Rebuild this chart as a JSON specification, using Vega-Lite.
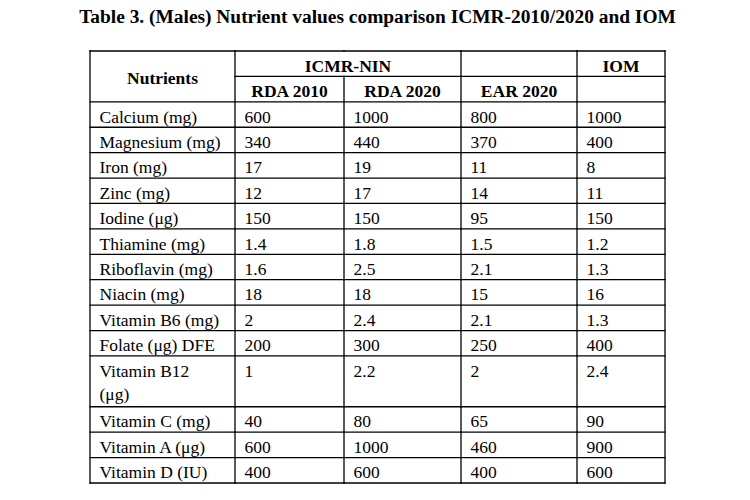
{
  "$schema": "https://vega.github.io/schema/vega-lite/v6.json",
  "padding": {"left": 79, "top": 6, "right": 0, "bottom": 0},
  "bounds": "flush",
  "spacing": 0,
  "title": {"text": "Table 3. (Males) Nutrient values comparison ICMR-2010/2020 and IOM", "font": "Liberation Serif", "fontSize": 19.4, "fontWeight": "bold", "color": "#000", "anchor": "middle", "offset": 23},
  "config": {
    "view": {"stroke": null},
    "text": {"font": "Liberation Serif", "fontSize": 17.5, "color": "#000"},
    "rule": {"color": "#000", "strokeWidth": 1.3, "strokeCap": "square"}
  },
  "data": {"values": [
    {"Nutrients": "Calcium (mg)", "RDA 2010": "600", "RDA 2020": "1000", "EAR 2020": "800", "IOM": "1000"},
    {"Nutrients": "Magnesium (mg)", "RDA 2010": "340", "RDA 2020": "440", "EAR 2020": "370", "IOM": "400"},
    {"Nutrients": "Iron (mg)", "RDA 2010": "17", "RDA 2020": "19", "EAR 2020": "11", "IOM": "8"},
    {"Nutrients": "Zinc (mg)", "RDA 2010": "12", "RDA 2020": "17", "EAR 2020": "14", "IOM": "11"},
    {"Nutrients": "Iodine (μg)", "RDA 2010": "150", "RDA 2020": "150", "EAR 2020": "95", "IOM": "150"},
    {"Nutrients": "Thiamine (mg)", "RDA 2010": "1.4", "RDA 2020": "1.8", "EAR 2020": "1.5", "IOM": "1.2"},
    {"Nutrients": "Riboflavin (mg)", "RDA 2010": "1.6", "RDA 2020": "2.5", "EAR 2020": "2.1", "IOM": "1.3"},
    {"Nutrients": "Niacin (mg)", "RDA 2010": "18", "RDA 2020": "18", "EAR 2020": "15", "IOM": "16"},
    {"Nutrients": "Vitamin B6 (mg)", "RDA 2010": "2", "RDA 2020": "2.4", "EAR 2020": "2.1", "IOM": "1.3"},
    {"Nutrients": "Folate (μg) DFE", "RDA 2010": "200", "RDA 2020": "300", "EAR 2020": "250", "IOM": "400"},
    {"Nutrients": "Vitamin B12\n(μg)", "RDA 2010": "1", "RDA 2020": "2.2", "EAR 2020": "2", "IOM": "2.4"},
    {"Nutrients": "Vitamin C (mg)", "RDA 2010": "40", "RDA 2020": "80", "EAR 2020": "65", "IOM": "90"},
    {"Nutrients": "Vitamin A (μg)", "RDA 2010": "600", "RDA 2020": "1000", "EAR 2020": "460", "IOM": "900"},
    {"Nutrients": "Vitamin D (IU)", "RDA 2010": "400", "RDA 2020": "600", "EAR 2020": "400", "IOM": "600"}
  ]},
  "hconcat": [
    {
      "width": 145, "height": 432,
      "layer": [
        {"mark": {"type": "text", "align": "left", "baseline": "alphabetic", "dx": 9.5, "dy": 8, "lineBreak": "\n", "lineHeight": 23.4},
         "encoding": {
           "x": {"datum": "Nutrients", "type": "nominal", "bandPosition": 0, "scale": {"paddingInner": 0, "paddingOuter": 0}, "axis": null},
           "y": {"field": "Nutrients", "type": "nominal", "sort": null, "axis": null, "scale": {"paddingInner": 0, "paddingOuter": 0, "domain": ["h1", "h2", "Calcium (mg)", "Magnesium (mg)", "Iron (mg)", "Zinc (mg)", "Iodine (μg)", "Thiamine (mg)", "Riboflavin (mg)", "Niacin (mg)", "Vitamin B6 (mg)", "Folate (μg) DFE", "Vitamin B12\n(μg)", "b12-line2", "Vitamin C (mg)", "Vitamin A (μg)", "Vitamin D (IU)"]}},
           "text": {"field": "Nutrients", "type": "nominal"}}},
        {"data": {"values": [{"label": "Nutrients"}]},
         "mark": {"type": "text", "align": "center", "baseline": "alphabetic", "fontWeight": "bold", "dy": 8},
         "encoding": {"x": {"datum": "Nutrients", "type": "nominal", "bandPosition": 0.5}, "y": {"datum": "h2", "type": "nominal", "bandPosition": 0}, "text": {"field": "label", "type": "nominal"}}},
        {"mark": "rule", "encoding": {"y": {"field": "Nutrients", "type": "nominal", "bandPosition": 0}}},
        {"data": {"values": [{}]}, "mark": "rule", "encoding": {"y": {"datum": "h1", "type": "nominal", "bandPosition": 0}}},
        {"data": {"values": [{}]}, "mark": "rule", "encoding": {"y": {"datum": "Vitamin D (IU)", "type": "nominal", "bandPosition": 1}}},
        {"data": {"values": [{}]}, "mark": "rule", "encoding": {"x": {"datum": "Nutrients", "type": "nominal", "bandPosition": 0}}}
      ]
    },
    {
      "width": 109, "height": 432,
      "layer": [
        {"mark": {"type": "text", "align": "left", "baseline": "alphabetic", "dx": 9.5, "dy": 8},
         "encoding": {
           "x": {"datum": "RDA 2010", "type": "nominal", "bandPosition": 0, "scale": {"paddingInner": 0, "paddingOuter": 0}, "axis": null},
           "y": {"field": "Nutrients", "type": "nominal", "sort": null, "axis": null, "scale": {"paddingInner": 0, "paddingOuter": 0, "domain": ["h1", "h2", "Calcium (mg)", "Magnesium (mg)", "Iron (mg)", "Zinc (mg)", "Iodine (μg)", "Thiamine (mg)", "Riboflavin (mg)", "Niacin (mg)", "Vitamin B6 (mg)", "Folate (μg) DFE", "Vitamin B12\n(μg)", "b12-line2", "Vitamin C (mg)", "Vitamin A (μg)", "Vitamin D (IU)"]}},
           "text": {"field": "RDA 2010", "type": "nominal"}}},
        {"data": {"values": [{"label": "ICMR-NIN"}]},
         "mark": {"type": "text", "align": "center", "baseline": "alphabetic", "fontWeight": "bold", "dx": 4, "dy": 7.8},
         "encoding": {"x": {"datum": "RDA 2010", "type": "nominal", "bandPosition": 1}, "y": {"datum": "h1", "type": "nominal", "bandPosition": 0.5}, "text": {"field": "label", "type": "nominal"}}},
        {"data": {"values": [{"label": "RDA 2010"}]},
         "mark": {"type": "text", "align": "center", "baseline": "alphabetic", "fontWeight": "bold", "dy": 8.2},
         "encoding": {"x": {"datum": "RDA 2010", "type": "nominal", "bandPosition": 0.5}, "y": {"datum": "h2", "type": "nominal", "bandPosition": 0.5}, "text": {"field": "label", "type": "nominal"}}},
        {"mark": "rule", "encoding": {"y": {"field": "Nutrients", "type": "nominal", "bandPosition": 0}}},
        {"data": {"values": [{}]}, "mark": "rule", "encoding": {"y": {"datum": "h1", "type": "nominal", "bandPosition": 0}}},
        {"data": {"values": [{}]}, "mark": "rule", "encoding": {"y": {"datum": "h2", "type": "nominal", "bandPosition": 0}}},
        {"data": {"values": [{}]}, "mark": "rule", "encoding": {"y": {"datum": "Vitamin D (IU)", "type": "nominal", "bandPosition": 1}}},
        {"data": {"values": [{}]}, "mark": "rule", "encoding": {"x": {"datum": "RDA 2010", "type": "nominal", "bandPosition": 0}}}
      ]
    },
    {
      "width": 117, "height": 432,
      "layer": [
        {"mark": {"type": "text", "align": "left", "baseline": "alphabetic", "dx": 9.5, "dy": 8},
         "encoding": {
           "x": {"datum": "RDA 2020", "type": "nominal", "bandPosition": 0, "scale": {"paddingInner": 0, "paddingOuter": 0}, "axis": null},
           "y": {"field": "Nutrients", "type": "nominal", "sort": null, "axis": null, "scale": {"paddingInner": 0, "paddingOuter": 0, "domain": ["h1", "h2", "Calcium (mg)", "Magnesium (mg)", "Iron (mg)", "Zinc (mg)", "Iodine (μg)", "Thiamine (mg)", "Riboflavin (mg)", "Niacin (mg)", "Vitamin B6 (mg)", "Folate (μg) DFE", "Vitamin B12\n(μg)", "b12-line2", "Vitamin C (mg)", "Vitamin A (μg)", "Vitamin D (IU)"]}},
           "text": {"field": "RDA 2020", "type": "nominal"}}},
        {"data": {"values": [{"label": "RDA 2020"}]},
         "mark": {"type": "text", "align": "center", "baseline": "alphabetic", "fontWeight": "bold", "dy": 8.2},
         "encoding": {"x": {"datum": "RDA 2020", "type": "nominal", "bandPosition": 0.5}, "y": {"datum": "h2", "type": "nominal", "bandPosition": 0.5}, "text": {"field": "label", "type": "nominal"}}},
        {"mark": "rule", "encoding": {"y": {"field": "Nutrients", "type": "nominal", "bandPosition": 0}}},
        {"data": {"values": [{}]}, "mark": "rule", "encoding": {"y": {"datum": "h1", "type": "nominal", "bandPosition": 0}}},
        {"data": {"values": [{}]}, "mark": "rule", "encoding": {"y": {"datum": "h2", "type": "nominal", "bandPosition": 0}}},
        {"data": {"values": [{}]}, "mark": "rule", "encoding": {"y": {"datum": "Vitamin D (IU)", "type": "nominal", "bandPosition": 1}}},
        {"data": {"values": [{}]}, "mark": "rule", "encoding": {"x": {"datum": "RDA 2020", "type": "nominal", "bandPosition": 0}, "y": {"datum": "h2", "type": "nominal", "bandPosition": 0}, "y2": {"datum": "Vitamin D (IU)", "bandPosition": 1}}}
      ]
    },
    {
      "width": 116, "height": 432,
      "layer": [
        {"mark": {"type": "text", "align": "left", "baseline": "alphabetic", "dx": 9.5, "dy": 8},
         "encoding": {
           "x": {"datum": "EAR 2020", "type": "nominal", "bandPosition": 0, "scale": {"paddingInner": 0, "paddingOuter": 0}, "axis": null},
           "y": {"field": "Nutrients", "type": "nominal", "sort": null, "axis": null, "scale": {"paddingInner": 0, "paddingOuter": 0, "domain": ["h1", "h2", "Calcium (mg)", "Magnesium (mg)", "Iron (mg)", "Zinc (mg)", "Iodine (μg)", "Thiamine (mg)", "Riboflavin (mg)", "Niacin (mg)", "Vitamin B6 (mg)", "Folate (μg) DFE", "Vitamin B12\n(μg)", "b12-line2", "Vitamin C (mg)", "Vitamin A (μg)", "Vitamin D (IU)"]}},
           "text": {"field": "EAR 2020", "type": "nominal"}}},
        {"data": {"values": [{"label": "EAR 2020"}]},
         "mark": {"type": "text", "align": "center", "baseline": "alphabetic", "fontWeight": "bold", "dy": 8.2},
         "encoding": {"x": {"datum": "EAR 2020", "type": "nominal", "bandPosition": 0.5}, "y": {"datum": "h2", "type": "nominal", "bandPosition": 0.5}, "text": {"field": "label", "type": "nominal"}}},
        {"mark": "rule", "encoding": {"y": {"field": "Nutrients", "type": "nominal", "bandPosition": 0}}},
        {"data": {"values": [{}]}, "mark": "rule", "encoding": {"y": {"datum": "h1", "type": "nominal", "bandPosition": 0}}},
        {"data": {"values": [{}]}, "mark": "rule", "encoding": {"y": {"datum": "h2", "type": "nominal", "bandPosition": 0}}},
        {"data": {"values": [{}]}, "mark": "rule", "encoding": {"y": {"datum": "Vitamin D (IU)", "type": "nominal", "bandPosition": 1}}},
        {"data": {"values": [{}]}, "mark": "rule", "encoding": {"x": {"datum": "EAR 2020", "type": "nominal", "bandPosition": 0}}}
      ]
    },
    {
      "width": 88, "height": 432,
      "layer": [
        {"mark": {"type": "text", "align": "left", "baseline": "alphabetic", "dx": 9.5, "dy": 8},
         "encoding": {
           "x": {"datum": "IOM", "type": "nominal", "bandPosition": 0, "scale": {"paddingInner": 0, "paddingOuter": 0}, "axis": null},
           "y": {"field": "Nutrients", "type": "nominal", "sort": null, "axis": null, "scale": {"paddingInner": 0, "paddingOuter": 0, "domain": ["h1", "h2", "Calcium (mg)", "Magnesium (mg)", "Iron (mg)", "Zinc (mg)", "Iodine (μg)", "Thiamine (mg)", "Riboflavin (mg)", "Niacin (mg)", "Vitamin B6 (mg)", "Folate (μg) DFE", "Vitamin B12\n(μg)", "b12-line2", "Vitamin C (mg)", "Vitamin A (μg)", "Vitamin D (IU)"]}},
           "text": {"field": "IOM", "type": "nominal"}}},
        {"data": {"values": [{"label": "IOM"}]},
         "mark": {"type": "text", "align": "center", "baseline": "alphabetic", "fontWeight": "bold", "dy": 8.2},
         "encoding": {"x": {"datum": "IOM", "type": "nominal", "bandPosition": 0.5}, "y": {"datum": "h1", "type": "nominal", "bandPosition": 0.5}, "text": {"field": "label", "type": "nominal"}}},
        {"mark": "rule", "encoding": {"y": {"field": "Nutrients", "type": "nominal", "bandPosition": 0}}},
        {"data": {"values": [{}]}, "mark": "rule", "encoding": {"y": {"datum": "h1", "type": "nominal", "bandPosition": 0}}},
        {"data": {"values": [{}]}, "mark": "rule", "encoding": {"y": {"datum": "h2", "type": "nominal", "bandPosition": 0}}},
        {"data": {"values": [{}]}, "mark": "rule", "encoding": {"y": {"datum": "Vitamin D (IU)", "type": "nominal", "bandPosition": 1}}},
        {"data": {"values": [{}]}, "mark": "rule", "encoding": {"x": {"datum": "IOM", "type": "nominal", "bandPosition": 0}}},
        {"data": {"values": [{}]}, "mark": "rule", "encoding": {"x": {"datum": "IOM", "type": "nominal", "bandPosition": 1}}}
      ]
    }
  ]
}
